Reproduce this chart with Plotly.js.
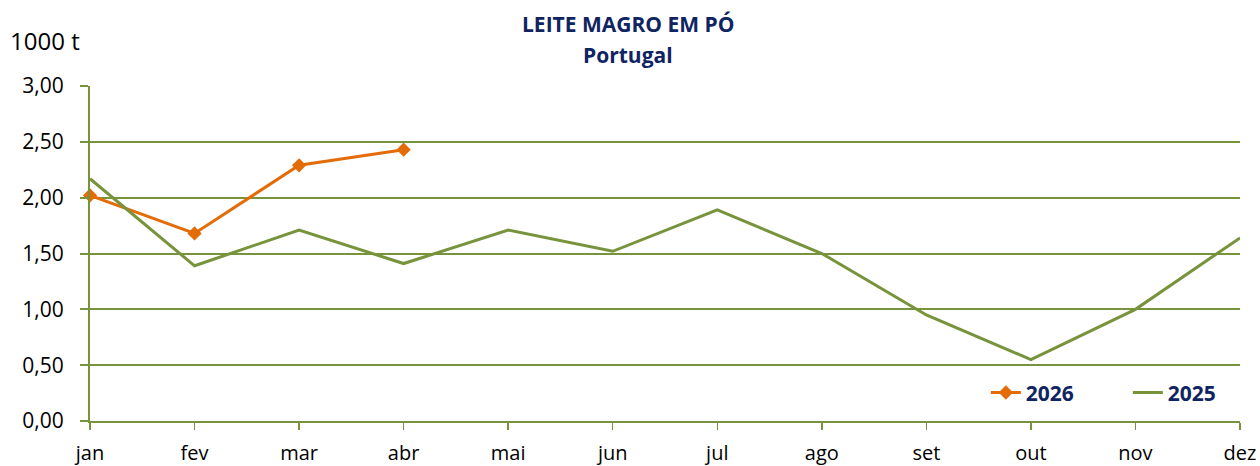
<!DOCTYPE html>
<html>
<head>
<meta charset="utf-8">
<script src="https://cdn.plot.ly/plotly-3.0.1.min.js"></script>
<style>html,body{margin:0;padding:0;background:#fff;}#chart{width:1260px;height:466px;}</style>
</head>
<body>
<div id="chart"></div>
<script>
const months = ["jan","fev","mar","abr","mai","jun","jul","ago","set","out","nov","dez"];
const values2026 = [2.02, 1.68, 2.29, 2.43];
const values2025 = [2.17, 1.39, 1.71, 1.41, 1.71, 1.52, 1.89, 1.50, 0.95, 0.55, 1.00, 1.64];
const yTicks = [0, 0.5, 1, 1.5, 2, 2.5, 3];

const FONT = "Open Sans, Liberation Sans, sans-serif";
const GREEN = "#77933C";
const ORANGE = "#E36C09";
const NAVY = "#0F2461";

const idx = arr => arr.map((_, i) => i);

const traces = [
  {
    x: idx(values2026), y: values2026, name: "2026", type: "scatter", mode: "lines+markers",
    line: {color: ORANGE, width: 3}, marker: {symbol: "diamond", size: 11, color: ORANGE},
    cliponaxis: false
  },
  {
    x: idx(values2025), y: values2025, name: "2025", type: "scatter", mode: "lines",
    line: {color: GREEN, width: 3}
  }
];

const layout = {
  width: 1260, height: 466,
  margin: {l: 90, r: 20, t: 86, b: 45, autoexpand: false},
  paper_bgcolor: "#fff", plot_bgcolor: "#fff",
  font: {family: FONT, size: 20, color: "#000"},
  showlegend: true,
  legend: {
    orientation: "h", x: 0.779, xanchor: "left", y: 0.084, yanchor: "middle",
    font: {family: FONT, size: 21, color: NAVY, weight: "bold"},
    entrywidth: 97, entrywidthmode: "pixels",
    bgcolor: "rgba(0,0,0,0)", borderwidth: 0, tracegroupgap: 0
  },
  xaxis: {
    range: [0, 11], tickmode: "array", tickvals: idx(months), ticktext: months,
    automargin: false,
    showgrid: false, zeroline: false, showline: true, linecolor: GREEN, linewidth: 2,
    ticks: "outside", ticklen: 7, tickcolor: GREEN, tickwidth: 1.5,
    ticklabelstandoff: 6, tickfont: {family: FONT, size: 20, color: "#000"}, fixedrange: true
  },
  yaxis: {
    range: [0, 3], tickmode: "array", tickvals: yTicks, tickformat: ".2f",
    automargin: false,
    showgrid: true, gridcolor: GREEN, gridwidth: 2, zeroline: false,
    showline: true, linecolor: GREEN, linewidth: 2,
    ticks: "outside", ticklen: 8, tickcolor: GREEN, tickwidth: 2,
    ticklabelstandoff: 12, tickfont: {family: FONT, size: 21, color: "#000"}, fixedrange: true
  },
  separators: ",.",
  annotations: [
    {text: "<b>LEITE MAGRO EM PÓ</b>", xref: "paper", yref: "paper", x: (628-90)/1150, y: 1, yshift: 62,
     xanchor: "center", yanchor: "middle", showarrow: false, font: {family: FONT, size: 21, color: NAVY}},
    {text: "<b>Portugal</b>", xref: "paper", yref: "paper", x: (628-90)/1150, y: 1, yshift: 31,
     xanchor: "center", yanchor: "middle", showarrow: false, font: {family: FONT, size: 21, color: NAVY}},
    {text: "1000 t", xref: "paper", yref: "paper", x: -82/1150, y: 1, yshift: 46,
     xanchor: "left", yanchor: "middle", showarrow: false, font: {family: FONT, size: 24, color: "#000"}}
  ],
  hovermode: false
};

Plotly.newPlot("chart", traces, layout, {displayModeBar: false, staticPlot: true});
</script>
</body>
</html>
